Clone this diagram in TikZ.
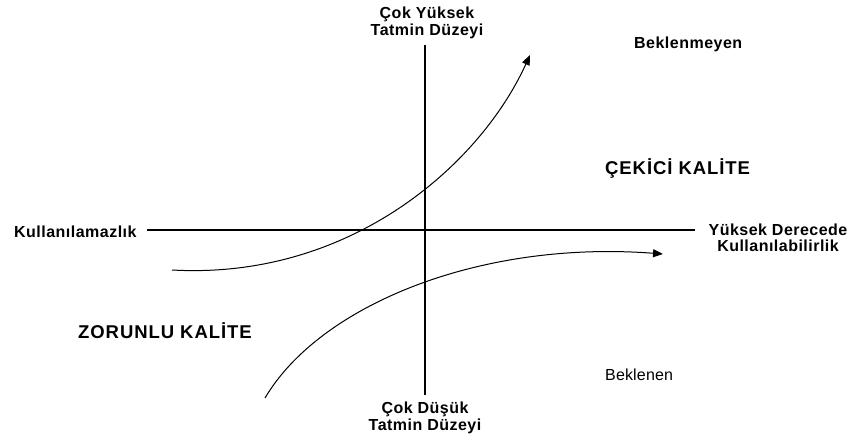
\documentclass[tikz,border=0pt]{standalone}
\usepackage{fontspec}
\setmainfont{Liberation Sans}
\newfontfamily\spacedA[LetterSpace=3]{Liberation Sans}
\newfontfamily\spacedB[LetterSpace=5]{Liberation Sans}
\newfontfamily\spacedC[LetterSpace=1]{Liberation Sans}
\usetikzlibrary{arrows.meta}
\begin{document}
\begin{tikzpicture}[x=1pt,y=-1pt,
  lbl/.style={inner sep=0pt, align=center, font=\spacedA\bfseries\fontsize{16}{16.5}\selectfont},
  big/.style={inner sep=0pt, font=\spacedB\bfseries\fontsize{18.5}{20}\selectfont},
  plain/.style={inner sep=0pt, font=\spacedC\fontsize{16}{18}\selectfont},
  axis/.style={line width=1.5pt},
  curve/.style={line width=1pt, -{Triangle[length=10pt,width=8pt]}}]
\useasboundingbox (0,0) rectangle (853,439);
% labels
\node[lbl] (top) at (427,23) {Çok Yüksek\\Tatmin Düzeyi};
\node[lbl] (bottom) at (425,418) {Çok Düşük\\Tatmin Düzeyi};
\node[lbl, anchor=west] (left) at (14,232) {Kullanılamazlık};
\node[lbl] (right) at (778,238) {Yüksek Derecede\\Kullanılabilirlik};
\node[lbl, anchor=west] (unexp) at (634,44) {Beklenmeyen};
\node[big, anchor=west] (attr) at (605,168) {ÇEKİCİ KALİTE};
\node[big, anchor=west] (must) at (78,331) {ZORUNLU KALİTE};
\node[plain, anchor=west] (exp) at (605,375) {Beklenen};
% axes
\coordinate (L) at (147,230);
\coordinate (R) at (695,230);
\coordinate (T) at (425,45);
\coordinate (B) at (425,395);
\draw[axis] (L) -- (R);
\draw[axis] (T) -- (B);
% curves
\coordinate (u0) at (172,270);
\coordinate (u1) at (530,55);
\draw[curve] (u0) .. controls (350,280) and (480,165) .. (u1);
\coordinate (l0) at (265,398);
\coordinate (l1) at (663,254);
\draw[curve] (l0) .. controls (320,305) and (480,240) .. (l1);
\end{tikzpicture}
\end{document}
